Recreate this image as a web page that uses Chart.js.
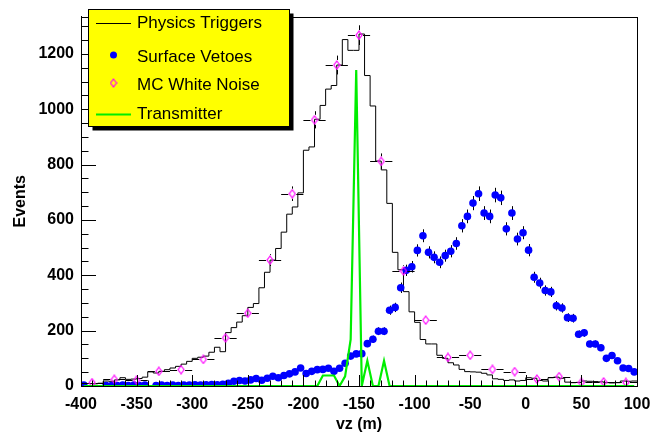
<!DOCTYPE html>
<html>
<head>
<meta charset="UTF-8">
<title>vz (m)</title>
<script src="https://cdn.jsdelivr.net/npm/chart.js"></script>
<style>
  body { margin: 0; background: #fff; }
  #wrap { width: 670px; height: 436px; }
</style>
</head>
<body>
<div id="wrap"><canvas id="c" width="670" height="436"></canvas></div>
<script>
// 5 m bins, -400 .. 100
const binEdges = [];
for (let e = -400; e <= 100; e += 5) binEdges.push(e);

// Physics Triggers, one count per 5 m bin
const physicsTriggers = [
  10, 9, 8, 10, 18, 17, 22, 30, 24, 25,
  27, 32, 51, 47, 53, 59, 65, 71, 79, 89,
  100, 104, 108, 122, 140, 124, 193, 211, 231, 254,
  284, 298, 355, 411, 455, 497, 556, 621, 647, 698,
  852, 864, 964, 1014, 1073, 1086, 1160, 1252, 1213, 1213,
  1272, 1122, 1012, 813, 781, 660, 483, 420, 341, 268,
  230, 168, 152, 152, 111, 100, 84, 76, 60, 52,
  51, 50, 46, 40, 26, 24, 20, 22, 18, 20,
  30, 28, 20, 18, 30, 32, 28, 14, 12, 13,
  18, 17, 16, 15, 12, 11, 12, 18, 17, 18
];

// Surface Vetoes, per 5 m bin (null = empty bin)
const surfaceVetoes = [
  3, null, null, null, 2, 2, 2, 3, 2, 3,
  2, 3, null, 2, 3, 2, 3, 2, 3, 3,
  4, 3, 4, 5, 4, 6, 10, 17, 20, 18,
  22, 27, 21, 28, 35, 30, 38, 44, 51, 65,
  45, 53, 59, 60, 64, 53, 64, 82, 108, 116,
  117, 153, 169, 198, 198, 274, 284, 355, 418, 431,
  490, 543, 483, 465, 447, 471, 487, 515, 579, 613,
  661, 695, 625, 613, 690, 680, 568, 625, 531, 554,
  491, 393, 372, 345, 340, 290, 282, 247, 245, 187,
  192, 152, 152, 138, 100, 110, 91, 65, 63, 51
];

// MC White Noise, 20 m bins
const mcCenters = [-390, -370, -350, -330, -310, -290, -270, -250, -230, -210,
  -190, -170, -150, -130, -110, -90, -70, -50, -30, -10, 10, 30, 50, 70, 90];
const mcWhiteNoise = [12, 24, 21, 53, 59, 96, 174, 263, 455, 695,
  962, 1160, 1268, 812, 416, 238, 103, 111, 60, 52, 25, 34, 13, 15, 13];

// Transmitter, per 5 m bin
const transmitter = [
  0, 0, 0, 0, 0, 0, 0, 0, 0, 0,
  0, 0, 0, 0, 0, 0, 0, 0, 0, 0,
  0, 0, 0, 0, 0, 0, 0, 0, 0, 0,
  0, 0, 0, 0, 0, 0, 0, 0, 0, 0,
  0, 0, 0, 38, 38, 38, 0, 35, 168, 1142,
  0, 91, 0, 0, 91, 0, 0, 0, 0, 0,
  0, 0, 0, 0, 0, 0, 0, 0, 0, 0,
  0, 0, 0, 0, 0, 0, 0, 0, 0, 0,
  0, 0, 0, 0, 0, 0, 0, 0, 0, 0,
  0, 0, 0, 0, 0, 0, 0, 0, 0, 0
];

const labelFont = { family: 'Liberation Sans, Arial, Helvetica, sans-serif', size: 16, weight: 'bold' };

// histogram outline: value held from left edge to next edge
const histPts = physicsTriggers.map((v, i) => ({ x: binEdges[i], y: v }));
histPts.push({ x: binEdges[binEdges.length - 1], y: physicsTriggers[physicsTriggers.length - 1] });
const centre = i => (binEdges[i] + binEdges[i + 1]) / 2;

// open diamond marker
const diamond = document.createElement('canvas');
diamond.width = 8; diamond.height = 10;
(function () {
  const d = diamond.getContext('2d');
  d.strokeStyle = '#ff00ff'; d.lineWidth = 1.2;
  d.beginPath();
  d.moveTo(4, 1); d.lineTo(7, 5); d.lineTo(4, 9); d.lineTo(1, 5); d.closePath();
  d.stroke();
})();

// error bars (sqrt N), stopped at the marker edge like ROOT does
const rootStyle = {
  id: 'rootStyle',
  beforeDatasetDraw(chart, args) {
    const ds = chart.data.datasets[args.index];
    if (!ds.errors) return;
    const { ctx, chartArea: a, scales: { x, y } } = chart;
    const gx = ds.errors === 'xy' ? 4 : 0, gy = ds.errors === 'xy' ? 5 : 0;
    ctx.save();
    ctx.beginPath(); ctx.rect(a.left, a.top, a.right - a.left, a.bottom - a.top); ctx.clip();
    ctx.strokeStyle = '#000'; ctx.lineWidth = 1;
    ctx.beginPath();
    args.meta.data.forEach((el, i) => {
      const v = ds.data[i].y;
      if (v === null || v <= 0) return;
      const e = Math.sqrt(v);
      const px = Math.round(el.x) + 0.5;
      const top = y.getPixelForValue(v + e), bot = y.getPixelForValue(v - e);
      if (el.y - gy > top) { ctx.moveTo(px, top); ctx.lineTo(px, el.y - gy); }
      if (el.y + gy < bot) { ctx.moveTo(px, el.y + gy); ctx.lineTo(px, bot); }
      if (ds.errors === 'xy') {
        const py = Math.round(el.y) + 0.5;
        ctx.moveTo(x.getPixelForValue(ds.data[i].x - 10), py);
        ctx.lineTo(el.x - gx, py);
        ctx.moveTo(el.x + gx, py);
        ctx.lineTo(x.getPixelForValue(ds.data[i].x + 10), py);
      }
    });
    ctx.stroke();
    ctx.restore();
  },
  afterDraw(chart) {
    const { ctx, chartArea: a, scales: { x, y } } = chart;
    ctx.save();
    ctx.strokeStyle = '#000'; ctx.lineWidth = 1;
    ctx.strokeRect(Math.round(a.left) + 0.5, Math.round(a.top) + 0.5,
      Math.round(a.right - a.left), Math.round(a.bottom - a.top));
    ctx.beginPath();
    for (let v = -400; v <= 100; v += 10) {
      const px = Math.round(x.getPixelForValue(v)) + 0.5;
      const len = v % 50 === 0 ? 11 : 5.5;
      ctx.moveTo(px, a.bottom); ctx.lineTo(px, a.bottom - len);
    }
    for (let v = 0; v <= 1300; v += 50) {
      const py = Math.round(y.getPixelForValue(v)) + 0.5;
      const len = v % 200 === 0 ? 15 : 7.5;
      ctx.moveTo(a.left, py); ctx.lineTo(a.left + len, py);
    }
    ctx.stroke();

    // legend box
    const bx = 88.5, by = 9.5, bw = 201, bh = 117;
    ctx.fillStyle = '#000';
    ctx.fillRect(bx + 4, by + 4, bw, bh);
    ctx.fillStyle = '#ffff00';
    ctx.fillRect(bx, by, bw, bh);
    ctx.strokeRect(bx, by, bw, bh);
    const rows = [23.5, 57, 85, 114.5];
    ctx.font = '17px "Liberation Sans", Arial, Helvetica, sans-serif';
    ctx.textBaseline = 'middle';
    chart.data.datasets.forEach((ds, i) => {
      const ry = rows[i];
      if (ds.showLine === false) {
        if (ds.pointStyle === 'circle') {
          ctx.fillStyle = ds.pointBackgroundColor;
          ctx.beginPath(); ctx.arc(113.5, ry - 2, 3.5, 0, Math.PI * 2); ctx.fill();
        } else {
          ctx.drawImage(diamond, 109.5, ry - 7);
        }
      } else {
        ctx.strokeStyle = ds.borderColor; ctx.lineWidth = ds.borderWidth;
        ctx.beginPath(); ctx.moveTo(96, ry); ctx.lineTo(131, ry); ctx.stroke();
      }
      ctx.fillStyle = '#000';
      ctx.fillText(ds.label, 137, ry);
    });
    ctx.restore();
  }
};

new Chart(document.getElementById('c'), {
  type: 'line',
  data: {
    datasets: [
      { label: 'Physics Triggers', data: histPts, stepped: true, borderColor: '#000',
        borderWidth: 1, pointRadius: 0, fill: false, order: 4 },
      { label: 'Surface Vetoes', data: surfaceVetoes.map((v, i) => ({ x: centre(i), y: v })),
        showLine: false, pointStyle: 'circle', pointRadius: 3.8, pointBackgroundColor: '#0000ff',
        pointBorderColor: '#0000ff', pointBorderWidth: 0, errors: 'y', order: 3 },
      { label: 'MC White Noise', data: mcWhiteNoise.map((v, i) => ({ x: mcCenters[i], y: v })),
        showLine: false, pointStyle: diamond, pointRadius: 4, errors: 'xy', order: 2 },
      { label: 'Transmitter', data: transmitter.map((v, i) => ({ x: centre(i), y: v })),
        borderColor: '#00ee00', borderWidth: 2.2, pointRadius: 0, fill: false, tension: 0, order: 1 }
    ]
  },
  options: {
    responsive: false,
    animation: false,
    spanGaps: false,
    layout: { padding: { top: 9, right: 33, left: 0, bottom: 0 } },
    plugins: { legend: { display: false }, tooltip: { enabled: false } },
    scales: {
      x: {
        type: 'linear', min: -400, max: 100,
        ticks: { stepSize: 50, font: labelFont, color: '#000', padding: 9, maxRotation: 0,
          callback: v => String(v) },
        grid: { display: false, drawTicks: false },
        border: { color: '#000' },
        title: { display: true, text: 'vz (m)', font: labelFont, color: '#000', padding: { bottom: 2 } },
        afterFit(s) { s.height = 50; }
      },
      y: {
        type: 'linear', min: 0, max: 1335,
        ticks: { stepSize: 200, includeBounds: false, font: labelFont, color: '#000', padding: 7,
          callback: v => String(v) },
        grid: { display: false, drawTicks: false },
        border: { color: '#000' },
        title: { display: true, text: 'Events', font: labelFont, color: '#000', padding: { top: 11 } },
        afterFit(s) { s.width = 81; }
      }
    }
  },
  plugins: [rootStyle]
});
</script>
</body>
</html>
